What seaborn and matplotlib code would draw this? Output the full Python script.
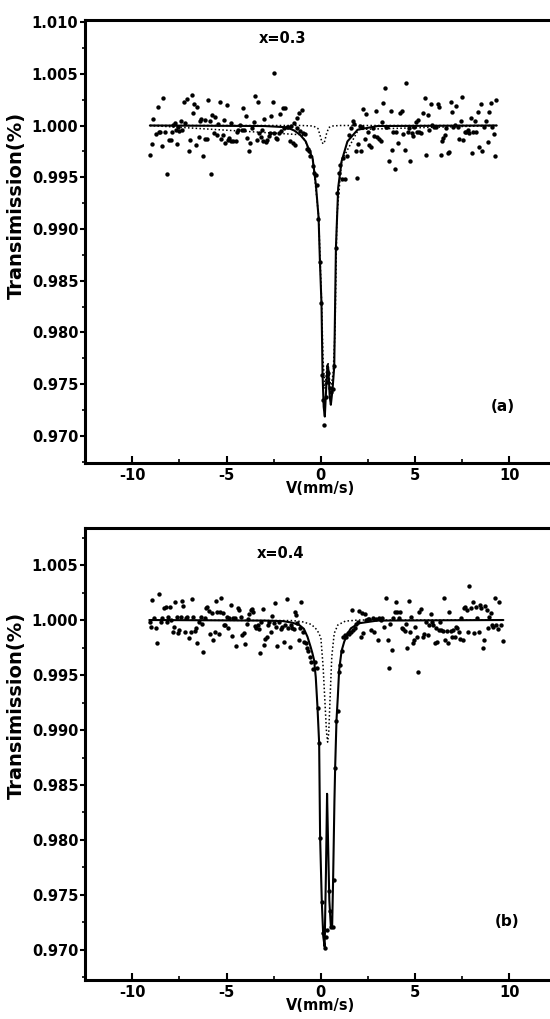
import numpy as np
import pandas as pd
import matplotlib
matplotlib.use("Agg")
import matplotlib.pyplot as plt
from matplotlib.ticker import MultipleLocator, FormatStrFormatter
import seaborn as sns

# ---------- panel (a): x=0.3 ----------
vel_a = [-9.05, -8.96, -8.89, -8.75, -8.66, -8.61, -8.54, -8.43, -8.36, -8.25,
         -8.15, -8.08, -7.97, -7.90, -7.83, -7.76, -7.69, -7.62, -7.58, -7.51,
         -7.44, -7.37, -7.26, -7.19, -7.12, -7.02, -6.95, -6.86, -6.79, -6.72,
         -6.63, -6.56, -6.49, -6.42, -6.36, -6.27, -6.17, -6.13, -6.03, -5.96,
         -5.89, -5.81, -5.78, -5.69, -5.60, -5.53, -5.48, -5.36, -5.30, -5.21,
         -5.14, -5.07, -5.00, -4.93, -4.86, -4.79, -4.74, -4.65, -4.51, -4.44,
         -4.37, -4.28, -4.19, -4.12, -4.07, -3.98, -3.91, -3.82, -3.76, -3.66,
         -3.57, -3.48, -3.41, -3.34, -3.27, -3.18, -3.13, -3.06, -2.99, -2.92,
         -2.85, -2.77, -2.70, -2.62, -2.56, -2.51, -2.46, -2.39, -2.32, -2.24,
         -2.17, -2.12, -2.03, -1.96, -1.89, -1.82, -1.75, -1.66, -1.59, -1.50,
         -1.41, -1.36, -1.29, -1.24, -1.15, -1.08, -1.01, -0.94, -0.85, -0.76,
         -0.69, -0.62, -0.55, -0.44, -0.35, -0.27, -0.20, -0.13, -0.06, 0.01,
         0.06, 0.13, 0.19, 0.26, 0.33, 0.40, 0.47, 0.55, 0.62, 0.71,
         0.80, 0.88, 0.95, 1.03, 1.10, 1.17, 1.27, 1.38, 1.50, 1.59,
         1.68, 1.77, 1.86, 1.91, 1.98, 2.07, 2.12, 2.19, 2.26, 2.35,
         2.42, 2.51, 2.58, 2.65, 2.74, 2.83, 2.93, 3.00, 3.09, 3.18,
         3.25, 3.32, 3.39, 3.46, 3.53, 3.62, 3.71, 3.76, 3.85, 3.92,
         3.99, 4.07, 4.21, 4.29, 4.38, 4.45, 4.52, 4.60, 4.67, 4.74,
         4.81, 4.88, 4.95, 5.04, 5.09, 5.16, 5.23, 5.30, 5.41, 5.51,
         5.59, 5.66, 5.74, 5.83, 5.92, 6.01, 6.10, 6.19, 6.27, 6.36,
         6.43, 6.50, 6.57, 6.65, 6.72, 6.80, 6.89, 6.96, 7.03, 7.11,
         7.19, 7.28, 7.33, 7.42, 7.51, 7.56, 7.64, 7.71, 7.78, 7.87,
         7.95, 8.04, 8.09, 8.17, 8.24, 8.34, 8.41, 8.48, 8.55, 8.66,
         8.75, 8.84, 8.93, 9.01, 9.10, 9.16, 9.23, 9.31]
trans_a = [0.99712, 0.99821, 1.00064, 0.99917, 1.00179, 0.99933, 0.99936, 0.99804, 1.00263, 0.99933,
           0.99535, 0.99856, 0.99856, 0.99942, 1.00006, 1.00022, 0.99958, 0.99821, 0.99990, 0.99949,
           1.00045, 0.99958, 1.00231, 1.00022, 1.00256, 0.99750, 0.99856, 1.00295, 1.00119, 1.00208,
           0.99814, 1.00176, 0.99885, 1.00045, 1.00064, 0.99708, 0.99872, 1.00054, 0.99872, 1.00247,
           1.00045, 0.99535, 1.00103, 0.99926, 1.00087, 0.99910, 1.00013, 1.00224, 0.99872, 0.99904,
           1.00054, 0.99830, 1.00199, 0.99862, 0.99878, 1.00022, 0.99846, 0.99846, 0.99846, 0.99936,
           0.99958, 1.00006, 0.99958, 1.00167, 0.99958, 1.00096, 0.99878, 0.99756, 0.99830, 0.99974,
           1.00032, 1.00285, 0.99862, 1.00231, 0.99926, 0.99885, 0.99958, 0.99846, 1.00064, 0.99837,
           0.99862, 0.99894, 0.99926, 1.00093, 1.00224, 0.99926, 1.00503, 0.99878, 0.99872, 0.99926,
           1.00112, 0.99949, 1.00173, 0.99974, 1.00173, 0.99981, 0.99981, 0.99853, 1.00000, 0.99830,
           1.00022, 0.99814, 1.00071, 0.99974, 1.00119, 0.99949, 1.00151, 0.99926, 0.99917, 0.99776,
           0.99776, 0.99756, 0.99702, 0.99606, 0.99542, 0.99526, 0.99420, 0.99100, 0.98680, 0.98282,
           0.97590, 0.97346, 0.97106, 0.97380, 0.97520, 0.97603, 0.97459, 0.97420, 0.97449, 0.97676,
           0.98814, 0.99349, 0.99542, 0.99622, 0.99478, 0.99686, 0.99487, 0.99702, 0.99904, 0.99974,
           1.00045, 1.00013, 0.99756, 0.99494, 0.99821, 1.00000, 0.99756, 0.99981, 1.00160, 0.99872,
           1.00109, 0.99942, 0.99814, 0.99788, 0.99974, 0.99894, 1.00141, 0.99885, 0.99872, 0.99853,
           1.00032, 1.00215, 1.00365, 0.99981, 0.99990, 0.99660, 1.00141, 0.99766, 0.99942, 0.99583,
           0.99936, 0.99830, 1.00119, 1.00141, 0.99917, 0.99766, 1.00413, 0.99936, 0.99974, 0.99660,
           0.99926, 0.99894, 0.99990, 1.00032, 0.99936, 1.00054, 0.99936, 0.99926, 1.00119, 1.00263,
           0.99712, 1.00103, 0.99958, 1.00205, 1.00006, 0.99981, 0.99990, 1.00205, 1.00183, 0.99712,
           0.99853, 0.99878, 0.99910, 0.99974, 0.99734, 0.99744, 1.00231, 1.00128, 0.99981, 1.00006,
           1.00192, 0.99990, 0.99872, 1.00045, 1.00279, 0.99862, 0.99936, 0.99936, 0.99958, 0.99926,
           1.00071, 0.99734, 0.99936, 1.00045, 0.99942, 1.00128, 0.99788, 1.00205, 0.99750, 0.99990,
           1.00045, 0.99840, 1.00135, 1.00215, 0.99981, 0.99917, 0.99702, 1.00247]

# fitted envelope (solid) and sub-spectra (dotted)
fit_vel_a = [-9.07, -3.0, -2.0, -1.77, -1.4, -1.1, -0.80, -0.60, -0.44, -0.265,
             -0.12, -0.05, 0.035, 0.09, 0.15, 0.21, 0.28, 0.35, 0.40, 0.47,
             0.53, 0.62, 0.71, 0.80, 0.92, 1.10, 1.41, 1.95, 3.0, 9.33]
fit_tr_a = [1.0, 0.99995, 0.99985, 0.9998, 0.9995, 0.9991, 0.99846, 0.9975, 0.99686, 0.9943,
            0.9911, 0.9869, 0.9827, 0.9760, 0.9728, 0.97186, 0.9745, 0.9768, 0.9764, 0.9738,
            0.9730, 0.9745, 0.9767, 0.9882, 0.9940, 0.99654, 0.99846, 0.99959, 0.99995, 1.0]
sub1_vel_a = [-9.07, -1.0, -0.4, -0.15, -0.05, 0.05, 0.12, 0.20, 0.30, 0.42, 0.6, 1.0, 9.33]
sub1_tr_a = [1.0, 1.0, 0.99995, 0.9997, 0.9991, 0.99845, 0.99822, 0.99845, 0.9992, 0.9998, 0.99995, 1.0, 1.0]
sub2_vel_a = [-9.07, -1.0, -0.44, -0.12, 0.035, 0.12, 0.22, 0.30, 0.38, 0.47,
              0.55, 0.65, 0.75, 0.85, 1.10, 2.0, 9.33]
sub2_tr_a = [1.0, 0.9991, 0.99700, 0.9913, 0.9832, 0.9772, 0.9746, 0.9763, 0.9771, 0.9753,
             0.9749, 0.9760, 0.9800, 0.9912, 0.99660, 0.99962, 1.0]

# ---------- panel (b): x=0.4 ----------
vel_b = [-9.06, -8.99, -8.94, -8.85, -8.76, -8.67, -8.58, -8.50, -8.41, -8.32,
         -8.23, -8.18, -8.11, -8.00, -7.93, -7.86, -7.79, -7.72, -7.65, -7.58,
         -7.50, -7.43, -7.36, -7.29, -7.22, -7.15, -7.08, -6.99, -6.90, -6.83,
         -6.76, -6.69, -6.62, -6.55, -6.46, -6.37, -6.30, -6.23, -6.16, -6.09,
         -6.02, -5.95, -5.88, -5.79, -5.72, -5.63, -5.56, -5.49, -5.42, -5.35,
         -5.27, -5.20, -5.13, -5.06, -4.99, -4.92, -4.85, -4.78, -4.71, -4.64,
         -4.57, -4.50, -4.42, -4.34, -4.25, -4.16, -4.07, -4.00, -3.93, -3.86,
         -3.79, -3.72, -3.65, -3.58, -3.50, -3.43, -3.36, -3.29, -3.22, -3.15,
         -3.08, -3.01, -2.94, -2.87, -2.80, -2.73, -2.65, -2.58, -2.51, -2.44,
         -2.37, -2.30, -2.21, -2.12, -2.05, -1.98, -1.91, -1.81, -1.73, -1.66,
         -1.59, -1.52, -1.45, -1.38, -1.31, -1.24, -1.17, -1.10, -1.03, -0.96,
         -0.88, -0.81, -0.74, -0.67, -0.60, -0.50, -0.39, -0.32, -0.23, -0.16,
         -0.09, -0.02, 0.06, 0.13, 0.20, 0.28, 0.35, 0.42, 0.49, 0.55,
         0.62, 0.68, 0.76, 0.83, 0.90, 0.97, 1.04, 1.12, 1.19, 1.29,
         1.36, 1.43, 1.50, 1.58, 1.65, 1.72, 1.79, 1.86, 1.95, 2.04,
         2.12, 2.18, 2.25, 2.35, 2.42, 2.50, 2.57, 2.65, 2.74, 2.83,
         2.92, 3.01, 3.10, 3.19, 3.27, 3.36, 3.45, 3.54, 3.61, 3.68,
         3.77, 3.84, 3.91, 3.98, 4.05, 4.12, 4.21, 4.30, 4.37, 4.44,
         4.51, 4.58, 4.65, 4.73, 4.80, 4.87, 4.94, 5.01, 5.08, 5.15,
         5.22, 5.31, 5.40, 5.49, 5.58, 5.66, 5.75, 5.82, 5.89, 5.96,
         6.04, 6.11, 6.18, 6.25, 6.32, 6.39, 6.46, 6.53, 6.60, 6.67,
         6.74, 6.81, 6.88, 6.96, 7.03, 7.10, 7.17, 7.24, 7.31, 7.38,
         7.45, 7.52, 7.61, 7.66, 7.73, 7.82, 7.88, 7.96, 8.05, 8.14,
         8.23, 8.30, 8.37, 8.44, 8.51, 8.58, 8.65, 8.73, 8.80, 8.87,
         8.94, 9.01, 9.08, 9.15, 9.23, 9.29, 9.38, 9.47, 9.56, 9.68]
trans_b = [0.99985, 0.99939, 1.00182, 1.00015, 0.99930, 0.99788, 1.00233, 0.99985, 1.00021, 1.00106,
           1.00121, 0.99985, 1.00030, 1.00121, 1.00000, 0.99894, 0.99939, 1.00161, 1.00030, 0.99879,
           0.99909, 1.00030, 1.00173, 1.00130, 0.99888, 1.00015, 1.00030, 0.99839, 0.99888, 1.00191,
           1.00030, 0.99900, 0.99924, 0.99788, 0.99985, 1.00030, 0.99961, 0.99712, 1.00021, 1.00112,
           1.00121, 1.00082, 0.99870, 1.00061, 0.99818, 0.99894, 1.00173, 1.00070, 0.99870, 1.00070,
           1.00197, 1.00061, 0.99955, 0.99955, 1.00030, 0.99930, 1.00015, 1.00136, 0.99858, 1.00015,
           1.00021, 0.99767, 1.00106, 1.00091, 1.00030, 0.99864, 0.99879, 0.99779, 0.99961, 1.00009,
           1.00052, 1.00091, 1.00100, 1.00076, 0.99948, 0.99924, 0.99955, 0.99918, 0.99697, 0.99985,
           1.00100, 0.99773, 0.99827, 0.99848, 0.99955, 0.99985, 0.99894, 1.00039, 0.99970, 1.00152,
           0.99939, 0.99767, 0.99985, 0.99918, 0.99939, 0.99803, 0.99955, 1.00191, 0.99924, 0.99758,
           0.99955, 0.99930, 0.99918, 1.00070, 1.00045, 0.99970, 0.99818, 0.99930, 1.00161, 0.99894,
           0.99803, 0.99788, 0.99748, 0.99718, 0.99667, 0.99621, 0.99555, 0.99615, 0.99561, 0.99197,
           0.98879, 0.98021, 0.97439, 0.97150, 0.97015, 0.97120, 0.97182, 0.97539, 0.97350, 0.97212,
           0.97206, 0.97636, 0.98652, 0.99085, 0.99176, 0.99530, 0.99591, 0.99718, 0.99848, 0.99864,
           0.99848, 0.99879, 0.99870, 0.99894, 1.00091, 0.99909, 0.99924, 0.99961, 0.99985, 1.00082,
           0.99848, 1.00061, 0.99879, 1.00052, 1.00000, 1.00009, 1.00009, 0.99909, 1.00015, 0.99894,
           1.00009, 0.99818, 1.00015, 1.00000, 1.00015, 0.99939, 1.00203, 0.99818, 0.99567, 0.99961,
           0.99727, 1.00021, 1.00070, 1.00167, 1.00076, 1.00015, 1.00076, 0.99930, 0.99918, 0.99900,
           0.99961, 0.99742, 1.00173, 0.99888, 1.00030, 0.99788, 0.99818, 0.99939, 0.99848, 0.99530,
           1.00076, 1.00100, 0.99848, 0.99870, 0.99985, 0.99864, 0.99955, 1.00052, 0.99985, 0.99955,
           0.99788, 0.99924, 0.99803, 0.99909, 0.99985, 0.99909, 0.99900, 1.00197, 0.99818, 0.99900,
           0.99788, 1.00070, 0.99900, 0.99848, 0.99909, 0.99848, 0.99939, 0.99924, 0.99894, 0.99827,
           1.00015, 0.99818, 1.00106, 1.00121, 1.00091, 0.99894, 1.00312, 1.00106, 1.00167, 0.99879,
           1.00121, 1.00021, 0.99888, 1.00136, 1.00106, 0.99748, 0.99818, 1.00130, 1.00091, 0.99930,
           1.00030, 1.00061, 0.99955, 0.99939, 1.00203, 0.99955, 0.99918, 1.00167, 0.99955, 0.99809]

fit_vel_b = [-9.1, -3.0, -2.0, -1.5, -1.15, -0.9, -0.71, -0.55, -0.45, -0.36,
             -0.27, -0.18, -0.09, -0.04, 0.05, 0.13, 0.20, 0.27, 0.33, 0.38,
             0.45, 0.53, 0.60, 0.65, 0.72, 0.76, 0.83, 0.90, 0.97, 1.10,
             1.24, 1.40, 1.59, 2.0, 3.0, 9.68]
fit_tr_b = [1.0, 0.99995, 0.99990, 0.99975, 0.99955, 0.99920, 0.99848, 0.99760, 0.99700, 0.99636,
            0.99480, 0.99212, 0.98879, 0.98030, 0.97439, 0.97120, 0.97030, 0.97700, 0.98420, 0.98000,
            0.97450, 0.97212, 0.97220, 0.97636, 0.98350, 0.98667, 0.99091, 0.99300, 0.99545, 0.99720,
            0.99803, 0.99870, 0.99924, 0.99970, 0.99995, 1.0]
sub_vel_b = [-9.1, -1.5, -1.0, -0.5, -0.2, 0.0, 0.12, 0.23, 0.30, 0.36,
             0.42, 0.48, 0.58, 0.71, 0.90, 1.3, 2.0, 9.68]
sub_tr_b = [1.0, 0.99995, 0.99985, 0.9996, 0.9991, 0.99840, 0.99576, 0.99212, 0.9898, 0.98890,
            0.98980, 0.99250, 0.99667, 0.99879, 0.99955, 0.99990, 1.0, 1.0]

sns.set_style("ticks")
plt.rcParams['font.family'] = ['DejaVu Sans']
plt.rcParams['font.weight'] = 'bold'
plt.rcParams['axes.labelweight'] = 'bold'
plt.rcParams['text.color'] = 'black'
plt.rcParams['axes.labelcolor'] = 'black'
plt.rcParams['xtick.color'] = 'black'
plt.rcParams['ytick.color'] = 'black'

W, H = 550, 1019
fig = plt.figure(figsize=(W / 100, H / 100), dpi=100)
# right frame edge falls just outside the picture, as in the scan
ax_a = fig.add_axes([85.2 / W, 1 - 462.7 / H, 471.3 / W, 442.7 / H])
ax_b = fig.add_axes([85.2 / W, 1 - 980.0 / H, 471.3 / W, 451.7 / H])


def draw_panel(ax, vel, trans, fit_v, fit_t, subs, ylim, title, tag, title_xy, tag_xy, ylab_y):
    for sv, st in subs:
        sns.lineplot(x=sv, y=st, ax=ax, color='black', linewidth=1.1, linestyle=(0, (1, 1.5)),
                     sort=False, estimator=None)
    sns.lineplot(x=fit_v, y=fit_t, ax=ax, color='black', linewidth=1.5,
                 sort=False, estimator=None)
    sns.scatterplot(x=vel, y=trans, ax=ax, color='black', s=10, linewidth=0, zorder=3)

    ax.set_xlim(-12.5, 12.5)
    ax.set_ylim(*ylim)
    ax.xaxis.set_major_locator(MultipleLocator(5))
    ax.xaxis.set_minor_locator(MultipleLocator(2.5))
    ax.yaxis.set_major_locator(MultipleLocator(0.005))
    ax.yaxis.set_minor_locator(MultipleLocator(0.0025))
    ax.yaxis.set_major_formatter(FormatStrFormatter('%.3f'))
    ax.xaxis.set_major_formatter(FormatStrFormatter('%d'))

    ax.tick_params(axis='y', which='major', direction='out', length=3.5, width=1.5,
                   labelsize=10.5, pad=1.5, colors='black')
    ax.tick_params(axis='y', which='minor', direction='out', length=2, width=1.2)
    ax.tick_params(axis='x', which='major', direction='in', length=5, width=1.5,
                   labelsize=10.5, pad=3.5, colors='black')
    ax.tick_params(axis='x', which='minor', direction='in', length=3, width=1.2)
    for sp in ax.spines.values():
        sp.set_linewidth(2.2)
        sp.set_color('black')

    ax.set_xlabel('V(mm/s)', fontsize=10.5, fontweight='bold', labelpad=-1, color='black')
    ax.set_ylabel('Transimission(%)', fontsize=14, fontweight='bold', color='black')
    ax.yaxis.set_label_coords(-0.125, ylab_y)

    ax.text(title_xy[0], title_xy[1], title, fontsize=10.5, fontweight='bold',
            ha='center', va='center', color='black')
    ax.text(tag_xy[0], tag_xy[1], tag, fontsize=11, fontweight='bold',
            ha='center', va='center', color='black')


draw_panel(ax_a, vel_a, trans_a, fit_vel_a, fit_tr_a,
           [(sub1_vel_a, sub1_tr_a), (sub2_vel_a, sub2_tr_a)],
           (0.9674, 1.0102), 'x=0.3', '(a)', (-2.03, 1.0084), (9.63, 0.97282), 0.58)
draw_panel(ax_b, vel_b, trans_b, fit_vel_b, fit_tr_b,
           [(sub_vel_b, sub_tr_b)],
           (0.96727, 1.00834), 'x=0.4', '(b)', (-2.12, 1.00606), (9.89, 0.97258), 0.607)

fig.savefig('out.png', dpi=100)
